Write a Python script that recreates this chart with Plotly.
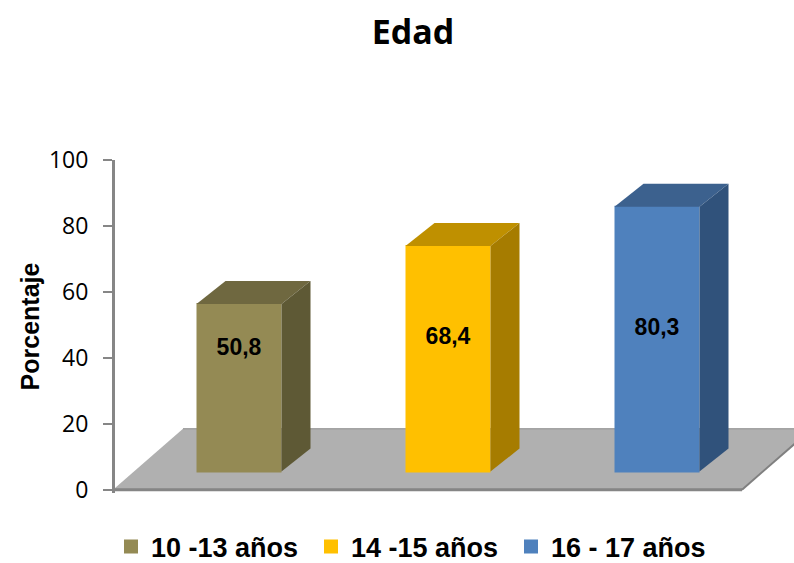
import plotly.graph_objects as go

categories = ["10 -13 años", "14 -15 años", "16 - 17 años"]
values = [50.8, 68.4, 80.3]
front_colors = ["#948A54", "#FFC000", "#4F81BD"]
top_colors = ["#6F6840", "#BF9000", "#3C618E"]
side_colors = ["#5E5935", "#A67C00", "#30527B"]
label_heights = [42.7, 45.8, 48.8]

# geometry of the simulated 3D view, in px, converted to data units
W, H = 794, 563
LEFT, TOP, BOTTOM = 115, 160, 493.3
PX_PER_Y = 3.3
PX_PER_X = 209.0
X0_PX = 239.0
def dx(p): return p / PX_PER_X
def dy(p): return p / PX_PER_Y
def xp(p): return (p - X0_PX) / PX_PER_X

BASE = dy(18.2)
DEPTH_X, DEPTH_Y = dx(29), dy(23)
BAR_W = dx(83)
xs = list(range(len(values)))

fig = go.Figure()
for i, c in enumerate(categories):
    fig.add_trace(go.Bar(x=[xs[i]], y=[values[i]], base=BASE, width=BAR_W, name=c,
                         marker=dict(color=front_colors[i], line=dict(color=front_colors[i], width=2))))
for i, v in enumerate(values):
    l, r = xs[i] - BAR_W / 2 - dx(1), xs[i] + BAR_W / 2 + dx(1)
    t = BASE + v
    fig.add_trace(go.Scatter(x=[l, r, r + DEPTH_X, l + DEPTH_X, l], y=[t, t, t + DEPTH_Y, t + DEPTH_Y, t],
                             mode="lines", fill="toself", fillcolor=top_colors[i], line=dict(width=0),
                             showlegend=False, hoverinfo="skip"))
    fig.add_trace(go.Scatter(x=[r, r + DEPTH_X, r + DEPTH_X, r, r],
                             y=[BASE, BASE + DEPTH_Y, t + DEPTH_Y, t, BASE],
                             mode="lines", fill="toself", fillcolor=side_colors[i], line=dict(width=0),
                             showlegend=False, hoverinfo="skip"))

fig.add_trace(go.Scatter(x=xs, y=label_heights, mode="text",
                         text=[f"{v:.1f}".replace(".", ",") for v in values],
                         textposition="middle center",
                         textfont=dict(family="Liberation Sans", size=23, color="#000000", weight=700),
                         showlegend=False, hoverinfo="skip"))

fl, bl, fr, br = xp(113), xp(183), xp(742), xp(812)
back = dy(61)
shapes = [
    dict(type="path", layer="below", xref="x", yref="y", fillcolor="#B0B0B0", line=dict(width=0),
         path=f"M{fl},0 L{bl},{back} L{br},{back} L{fr},0 Z"),
    dict(type="line", layer="below", xref="x", yref="y", x0=fl, y0=0, x1=fr, y1=0,
         line=dict(color="#858585", width=3)),
    dict(type="line", layer="below", xref="x", yref="y", x0=fr, y0=0, x1=br, y1=back,
         line=dict(color="#808080", width=2)),
    dict(type="line", layer="below", xref="x", yref="y", x0=bl, y0=back, x1=br, y1=back,
         line=dict(color="#8C8C8C", width=1)),
]

fig.update_layout(
    width=W, height=H, autosize=False,
    margin=dict(l=LEFT, r=0, t=TOP, b=H - BOTTOM, pad=0),
    paper_bgcolor="white", plot_bgcolor="white",
    showlegend=True, barmode="overlay", shapes=shapes,
    title=dict(text="Edad", x=413 / W, xanchor="center", xref="container",
               y=1 - 32 / H, yanchor="middle", yref="container",
               font=dict(family="Open Sans", size=34, color="#000000", weight=700)),
    legend=dict(orientation="h", xref="container", yref="container",
                x=111 / W, xanchor="left", y=1 - 547 / H, yanchor="middle",
                entrywidth=155, entrywidthmode="pixels", traceorder="normal",
                font=dict(family="Liberation Sans", size=27, color="#000000", weight=700)),
    xaxis=dict(range=[xp(LEFT), xp(W)], visible=False, fixedrange=True),
    yaxis=dict(range=[-1, 100], tickvals=[0, 20, 40, 60, 80, 100], ticks="outside", ticklen=9,
               tickwidth=2, tickcolor="#868686", showline=True, linecolor="#868686", linewidth=3,
               showgrid=False, zeroline=False, ticklabelstandoff=10,
               tickfont=dict(family="Open Sans", size=23, color="#000000"),
               title=dict(text="Porcentaje", standoff=3,
                          font=dict(family="Liberation Sans", size=25, color="#000000", weight=700))),
)
fig.write_html("out.html", config={"displayModeBar": False},
               post_script="document.body.style.margin='0';document.body.style.overflow='hidden';")
